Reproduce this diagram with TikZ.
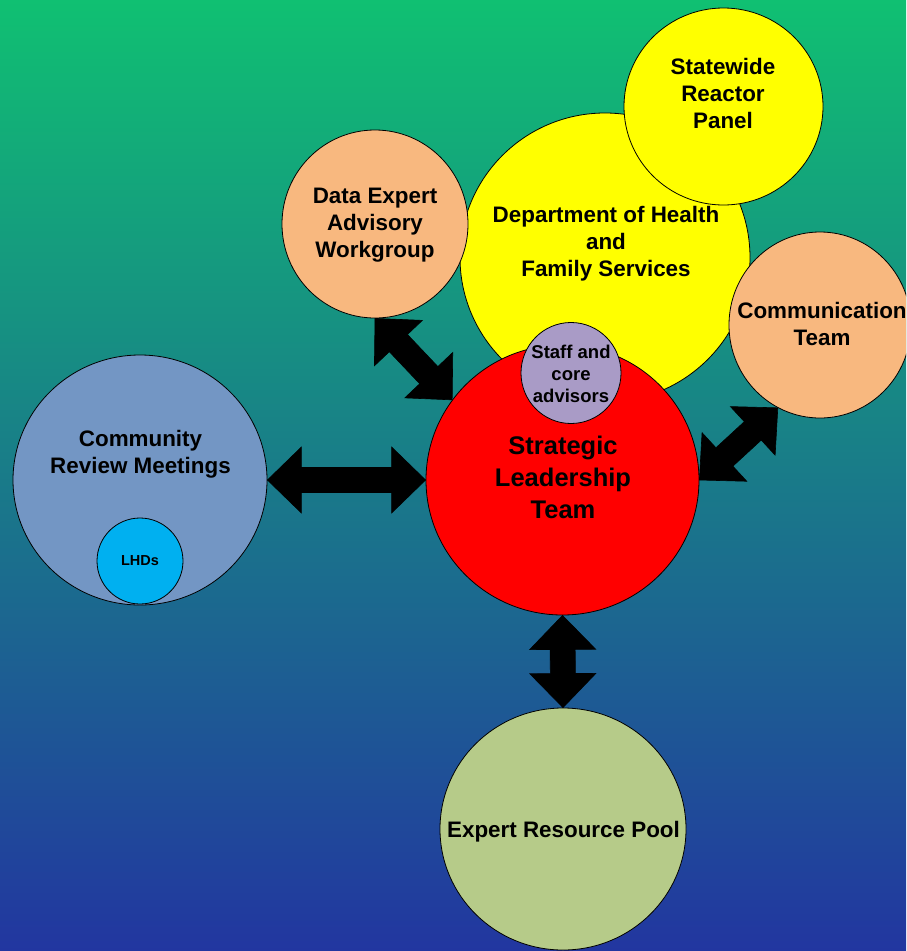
\documentclass[tikz,border=0pt]{standalone}
\usepackage{fontspec}
\setmainfont{Liberation Sans}
\usetikzlibrary{shapes.geometric,calc}
\definecolor{bgtop}{RGB}{16,192,114}
\definecolor{bgbot}{RGB}{34,54,160}
\definecolor{peach}{RGB}{248,184,127}
\definecolor{commblue}{RGB}{115,150,196}
\definecolor{lhdblue}{RGB}{0,176,240}
\definecolor{staffpurple}{RGB}{169,155,198}
\definecolor{poolgreen}{RGB}{182,203,137}
\definecolor{pureyellow}{RGB}{255,255,0}
\definecolor{purered}{RGB}{255,0,0}
\tikzset{
  blob/.style={ellipse, draw=black, line width=0.8pt, inner sep=0pt},
  lbl/.style={inner sep=0pt, align=center, font=\bfseries\fontsize{22.4}{27}\selectfont},
  twowaystyle/.style={fill=black, draw=black, line width=0.6pt, line join=miter}
}
\newcommand\twoway[2]{%
  \path[twowaystyle] (#1)
    -- ($(#1)!34pt!(#2)!33pt!90:(#2)$)
    -- ($(#1)!34pt!(#2)!12.5pt!90:(#2)$)
    -- ($(#2)!34pt!(#1)!12.5pt!-90:(#1)$)
    -- ($(#2)!34pt!(#1)!33pt!-90:(#1)$)
    -- (#2)
    -- ($(#2)!34pt!(#1)!33pt!90:(#1)$)
    -- ($(#2)!34pt!(#1)!12.5pt!90:(#1)$)
    -- ($(#1)!34pt!(#2)!12.5pt!-90:(#2)$)
    -- ($(#1)!34pt!(#2)!33pt!-90:(#2)$)
    -- cycle;}
\begin{document}
\begin{tikzpicture}[x=1pt,y=-1pt]
\useasboundingbox (0,0) rectangle (906,951);
\fill[top color=bgtop, bottom color=bgbot] (0,0) rectangle (906,951);
\clip (0,0) rectangle (906,951);
% shapes
\node[blob, fill=pureyellow, minimum width=290pt, minimum height=289pt] (dept) at (605,257.5) {};
\node[blob, fill=pureyellow, minimum width=199pt, minimum height=197pt] (swr) at (723.5,106.5) {};
\node[blob, fill=peach, minimum width=186pt, minimum height=188pt] (dea) at (375,224) {};
\node[blob, fill=peach, minimum width=182pt, minimum height=186pt] (comm) at (820,325) {};
\node[blob, fill=commblue, minimum width=254pt, minimum height=250pt] (crm) at (140,480) {};
\node[blob, fill=lhdblue, minimum width=86pt, minimum height=86pt] (lhd) at (140,561) {};
\node[blob, fill=purered, minimum width=273pt, minimum height=270pt] (slt) at (562.5,480) {};
\node[blob, fill=staffpurple, minimum width=100pt, minimum height=101pt] (staff) at (571,373) {};
\node[blob, fill=poolgreen, minimum width=246pt, minimum height=242pt] (erp) at (563,829) {};
% texts
\node[lbl] (tdept) at (606,244) {Department of Health\\and\\Family Services};
\node[lbl] (tswr) at (723,93.5) {Statewide\\Reactor\\Panel};
\node[lbl] (tdea) at (375,225) {Data Expert\\Advisory\\Workgroup};
\node[lbl] (tcomm) at (822,323.5) {Communication\\Team};
\node[lbl] (tcrm) at (140.5,454) {Community\\Review Meetings};
\node[lbl, font=\bfseries\fontsize{14.5}{17}\selectfont] (tlhd) at (140,561) {LHDs};
\node[lbl, font=\bfseries\fontsize{25.5}{32}\selectfont] (tslt) at (563,477) {Strategic\\Leadership\\Team};
\node[lbl, font=\bfseries\fontsize{18.5}{22}\selectfont] (tstaff) at (571,374) {Staff and\\core\\advisors};
\node[lbl] (terp) at (563.5,832) {Expert Resource Pool};
% connectors
\twoway{crm.east}{slt.west}
\twoway{dea.south}{slt.144}
\twoway{slt.east}{comm.243}
\twoway{slt.south}{erp.north}
\end{tikzpicture}
\end{document}
